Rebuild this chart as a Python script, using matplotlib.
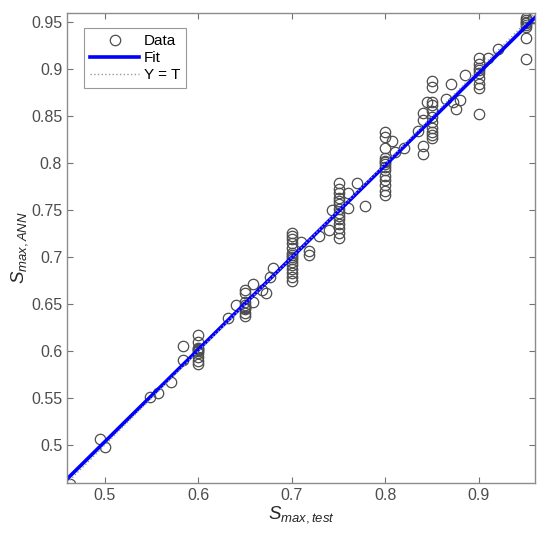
import numpy as np
import matplotlib
matplotlib.use("Agg")
import matplotlib.pyplot as plt

plt.rcParams["font.family"] = ["Liberation Sans", "DejaVu Sans"]
plt.rcParams["mathtext.fontset"] = "custom"
plt.rcParams["mathtext.rm"] = "Liberation Sans"
plt.rcParams["mathtext.it"] = "Liberation Sans:italic"

# columns of repeated test values
col_x = [0.60, 0.65, 0.70, 0.75, 0.80, 0.85, 0.90, 0.95]
col_y = [
    [0.617, 0.610, 0.604, 0.603, 0.601, 0.600, 0.598, 0.594, 0.590, 0.587],
    [0.665, 0.662, 0.652, 0.649, 0.647, 0.646, 0.645, 0.641, 0.638],
    [0.726, 0.723, 0.720, 0.715, 0.710, 0.705, 0.702, 0.700, 0.698, 0.695,
     0.692, 0.688, 0.683, 0.679, 0.675],
    [0.779, 0.773, 0.768, 0.763, 0.760, 0.757, 0.752, 0.747, 0.744, 0.741,
     0.736, 0.731, 0.726, 0.721],
    [0.833, 0.828, 0.816, 0.806, 0.803, 0.801, 0.799, 0.796, 0.793, 0.787,
     0.782, 0.777, 0.771, 0.766],
    [0.888, 0.881, 0.865, 0.862, 0.856, 0.849, 0.844, 0.838, 0.833, 0.830, 0.827],
    [0.912, 0.906, 0.902, 0.899, 0.896, 0.891, 0.885, 0.880, 0.853],
    [0.955, 0.953, 0.951, 0.949, 0.947, 0.945, 0.933, 0.911],
]

# scattered points between the columns
other_x = [0.463, 0.495, 0.500, 0.549, 0.557, 0.571, 0.584, 0.584,
           0.632, 0.640, 0.659, 0.668, 0.659, 0.672, 0.680, 0.677,
           0.710, 0.718, 0.718, 0.729, 0.740, 0.743,
           0.770, 0.760, 0.760, 0.778,
           0.807, 0.820, 0.810,
           0.835, 0.840, 0.840, 0.845, 0.840, 0.840,
           0.865, 0.870, 0.872, 0.875, 0.880, 0.885,
           0.910, 0.920, 0.958]
other_y = [0.459, 0.507, 0.498, 0.551, 0.556, 0.567, 0.606, 0.591,
           0.635, 0.649, 0.672, 0.665, 0.652, 0.662, 0.689, 0.679,
           0.716, 0.707, 0.702, 0.723, 0.729, 0.750,
           0.779, 0.768, 0.753, 0.755,
           0.824, 0.816, 0.812,
           0.835, 0.819, 0.810, 0.865, 0.854, 0.846,
           0.869, 0.885, 0.865, 0.858, 0.867, 0.894,
           0.912, 0.922, 0.955]

T = np.concatenate([np.full(len(v), c) for c, v in zip(col_x, col_y)] + [other_x])
Y = np.concatenate([np.array(v) for v in col_y] + [other_y])

fig = plt.figure(figsize=(5.5, 5.45), dpi=100)
ax = fig.add_axes([0.122, 0.114, 0.851, 0.862])

lims = np.array([0.46, 0.96])
ax.plot(T, Y, "o", mfc="none", mec="0.3", ms=7.5, mew=0.9, label="Data")
p = np.polyfit(T, Y, 1)
ax.plot(lims, np.polyval(p, lims), color="#0000ff", lw=2.6, label="Fit")
ax.plot(lims, lims, color="0.6", ls=":", lw=1.0, label="Y = T")

ax.set_xlim(lims)
ax.set_ylim(lims)
ax.set_xticks([0.5, 0.6, 0.7, 0.8, 0.9])
ax.set_xticklabels(["0.5", "0.6", "0.7", "0.8", "0.9"])
yt = np.arange(0.5, 0.951, 0.05)
ax.set_yticks(yt)
ax.set_yticklabels([f"{v:g}" for v in np.round(yt, 2)])
ax.tick_params(direction="in", top=True, right=True, length=4, width=0.8,
               color="0.45", labelcolor="0.3", labelsize=11.5)
for sp in ax.spines.values():
    sp.set_color("0.55")
    sp.set_linewidth(1.0)

ax.set_xlabel(r"$S_{max,test}$", fontsize=13.5, color="0.15", labelpad=1)
ax.set_ylabel(r"$S_{max,ANN}$", fontsize=13.5, color="0.15", labelpad=1)

leg = ax.legend(loc="upper left", fontsize=11, handlelength=3.2,
                frameon=True, fancybox=False, borderpad=0.4,
                labelspacing=0.2, handletextpad=0.3,
                bbox_to_anchor=(0.02, 0.985))
leg.get_frame().set_edgecolor("0.5")
leg.get_frame().set_linewidth(0.8)

fig.savefig("out.png", dpi=100)
